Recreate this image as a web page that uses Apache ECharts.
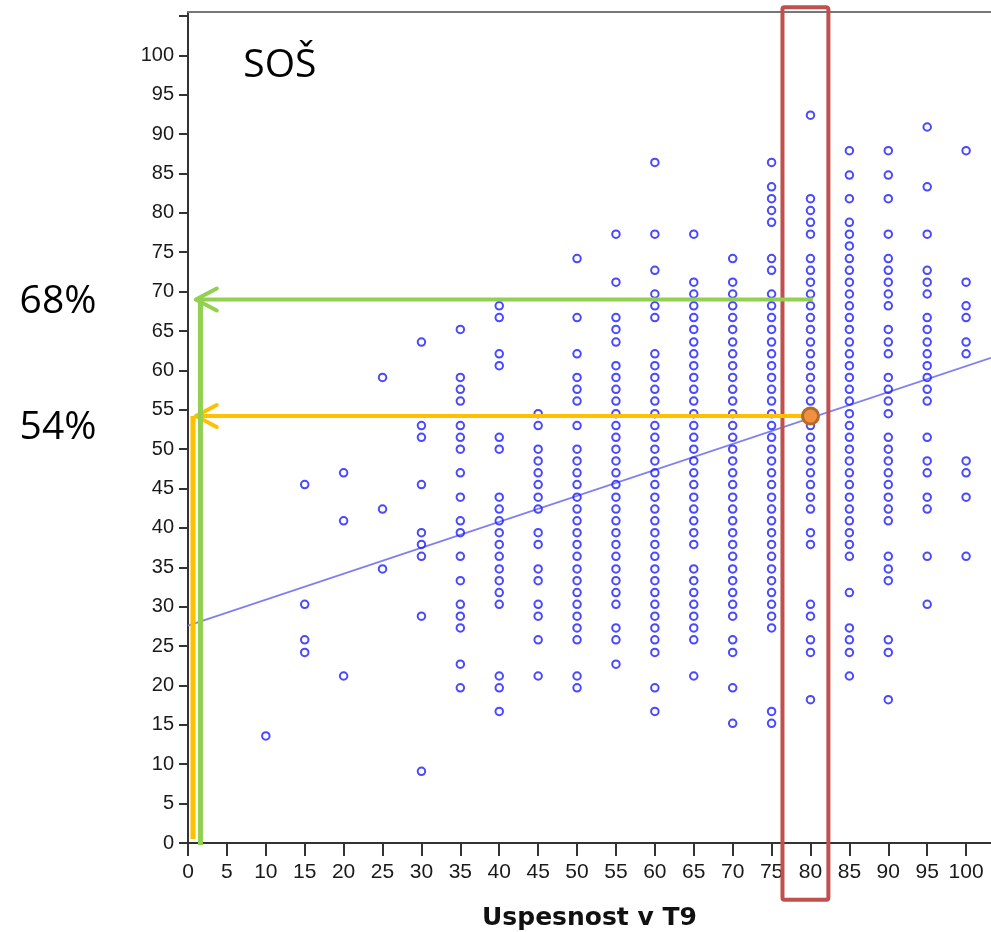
<!DOCTYPE html>
<html>
<head>
<meta charset="utf-8">
<script src="https://cdn.jsdelivr.net/npm/echarts@6/dist/echarts.min.js"></script>
<style>
html,body{margin:0;padding:0;background:#fff;}
#main{width:991px;height:932px;}
</style>
</head>
<body>
<div id="main"></div>
<script>
// ---- data (x = Uspesnost v T9, y = school success %) ----
const xTicks = [0,5,10,15,20,25,30,35,40,45,50,55,60,65,70,75,80,85,90,95,100];
const yTicks = [0,5,10,15,20,25,30,35,40,45,50,55,60,65,70,75,80,85,90,95,100,105];
const yLabels = [0,5,10,15,20,25,30,35,40,45,50,55,60,65,70,75,80,85,90,95,100];
const colX = [10,15,20,25,30,35,40,45,50,55,60,65,70,75,80,85,90,95,100];
const y10 = [13.6];
const y15 = [45.5, 30.3, 25.8, 24.2];
const y20 = [47.0, 40.9, 21.2];
const y25 = [59.1, 42.4, 34.8];
const y30 = [63.6, 53.0, 51.5, 45.5, 39.4, 37.9, 36.4, 28.8, 9.1];
const y35 = [65.2, 59.1, 57.6, 56.1, 53.0, 51.5, 50.0, 47.0, 43.9, 40.9, 39.4, 36.4, 33.3, 30.3, 28.8, 27.3, 22.7, 19.7];
const y40 = [68.2, 66.7, 62.1, 60.6, 51.5, 50.0, 43.9, 42.4, 40.9, 39.4, 37.9, 36.4, 34.8, 33.3, 31.8, 30.3, 21.2, 19.7, 16.7];
const y45 = [54.5, 53.0, 50.0, 48.5, 47.0, 45.5, 43.9, 42.4, 39.4, 37.9, 34.8, 33.3, 30.3, 28.8, 25.8, 21.2];
const y50 = [74.2, 66.7, 62.1, 59.1, 57.6, 56.1, 53.0, 50.0, 48.5, 47.0, 45.5, 43.9, 42.4, 40.9, 39.4, 37.9, 36.4, 34.8, 33.3, 31.8, 30.3, 28.8, 27.3, 25.8, 21.2, 19.7];
const y55 = [77.3, 71.2, 66.7, 65.2, 63.6, 60.6, 59.1, 57.6, 56.1, 54.5, 53.0, 51.5, 50.0, 48.5, 47.0, 45.5, 43.9, 42.4, 40.9, 39.4, 37.9, 36.4, 34.8, 33.3, 31.8, 30.3, 27.3, 25.8, 22.7];
const y60 = [86.4, 77.3, 72.7, 69.7, 68.2, 66.7, 62.1, 60.6, 59.1, 57.6, 56.1, 54.5, 53.0, 51.5, 50.0, 48.5, 47.0, 45.5, 43.9, 42.4, 40.9, 39.4, 37.9, 36.4, 34.8, 33.3, 31.8, 30.3, 28.8, 27.3, 25.8, 24.2, 19.7, 16.7];
const y65 = [77.3, 71.2, 69.7, 68.2, 66.7, 65.2, 63.6, 62.1, 60.6, 59.1, 57.6, 56.1, 54.5, 53.0, 51.5, 50.0, 48.5, 47.0, 45.5, 43.9, 42.4, 40.9, 39.4, 37.9, 34.8, 33.3, 31.8, 30.3, 28.8, 27.3, 25.8, 21.2];
const y70 = [74.2, 71.2, 69.7, 68.2, 66.7, 65.2, 63.6, 62.1, 60.6, 59.1, 57.6, 56.1, 54.5, 53.0, 51.5, 50.0, 48.5, 47.0, 45.5, 43.9, 42.4, 40.9, 39.4, 37.9, 36.4, 34.8, 33.3, 31.8, 30.3, 28.8, 25.8, 24.2, 19.7, 15.2];
const y75 = [86.4, 83.3, 81.8, 80.3, 78.8, 74.2, 72.7, 69.7, 68.2, 66.7, 65.2, 63.6, 62.1, 60.6, 59.1, 57.6, 56.1, 54.5, 53.0, 51.5, 50.0, 48.5, 47.0, 45.5, 43.9, 42.4, 40.9, 39.4, 37.9, 36.4, 34.8, 33.3, 31.8, 30.3, 28.8, 27.3, 16.7, 15.2];
const y80 = [92.4, 81.8, 80.3, 78.8, 77.3, 74.2, 72.7, 71.2, 69.7, 68.2, 66.7, 65.2, 63.6, 62.1, 60.6, 59.1, 57.6, 56.1, 54.5, 53.0, 51.5, 50.0, 48.5, 47.0, 45.5, 43.9, 42.4, 39.4, 37.9, 30.3, 28.8, 25.8, 24.2, 18.2];
const y85 = [87.9, 84.8, 81.8, 78.8, 77.3, 75.8, 74.2, 72.7, 71.2, 69.7, 68.2, 66.7, 65.2, 63.6, 62.1, 60.6, 59.1, 57.6, 56.1, 54.5, 53.0, 51.5, 50.0, 48.5, 47.0, 45.5, 43.9, 42.4, 40.9, 39.4, 37.9, 36.4, 31.8, 27.3, 25.8, 24.2, 21.2];
const y90 = [87.9, 84.8, 81.8, 77.3, 74.2, 72.7, 71.2, 69.7, 68.2, 65.2, 63.6, 62.1, 59.1, 57.6, 56.1, 54.5, 51.5, 50.0, 48.5, 47.0, 45.5, 43.9, 42.4, 40.9, 36.4, 34.8, 33.3, 25.8, 24.2, 18.2];
const y95 = [90.9, 83.3, 77.3, 72.7, 71.2, 69.7, 66.7, 65.2, 63.6, 62.1, 60.6, 59.1, 57.6, 56.1, 51.5, 48.5, 47.0, 43.9, 42.4, 36.4, 30.3];
const y100 = [87.9, 71.2, 68.2, 66.7, 63.6, 62.1, 48.5, 47.0, 43.9, 36.4];
const colY = [y10,y15,y20,y25,y30,y35,y40,y45,y50,y55,y60,y65,y70,y75,y80,y85,y90,y95,y100];

// fit line endpoints (x, y)
const fitX = [0, 103.2];
const fitY = [27.6, 61.6];

// annotations
const highlightX = 80;
const greenLevel = 69.0, greenLabel = '68%';
const orangeLevel = 54.2, orangeLabel = '54%';
const groupLabel = 'SOŠ';
const xTitle = 'Uspesnost v T9';

// ---- build ----
const points = [];
colX.forEach((x, i) => colY[i].forEach(y => points.push([x, y])));

const chart = echarts.init(document.getElementById('main'), null, {renderer: 'canvas'});
const axisFont = 'Liberation Sans, Arial, sans-serif';
const option = {
  animation: false,
  backgroundColor: '#ffffff',
  grid: {left: 188, right: 0, top: 12, bottom: 89, containLabel: false, outerBoundsMode: 'none'},
  xAxis: [{
    type: 'value', min: 0, max: 103.2, interval: 5,
    name: xTitle, nameLocation: 'middle', nameGap: 63,
    nameTextStyle: {fontFamily: 'DejaVu Sans, sans-serif', fontWeight: 'bold', fontSize: 25, color: '#111'},
    axisLine: {show: true, onZero: false, lineStyle: {color: '#333', width: 2}},
    axisTick: {show: true, length: 13, customValues: xTicks, lineStyle: {color: '#333', width: 2}},
    axisLabel: {margin: 19, fontSize: 21, color: '#1a1a1a', fontFamily: axisFont, customValues: xTicks,
      formatter: v => (xTicks.indexOf(v) >= 0 ? String(v) : '')},
    splitLine: {show: false}
  }, {
    type: 'value', position: 'top', min: 0, max: 103.2,
    axisLine: {show: true, onZero: false, lineStyle: {color: '#777', width: 2}},
    axisTick: {show: false}, axisLabel: {show: false}, splitLine: {show: false}
  }],
  yAxis: {
    type: 'value', min: 0, max: 105.5, interval: 5,
    axisLine: {show: true, onZero: false, lineStyle: {color: '#333', width: 2}},
    axisTick: {show: true, length: 9, customValues: yTicks, lineStyle: {color: '#333', width: 2}},
    axisLabel: {margin: 14, fontSize: 20, color: '#1a1a1a', fontFamily: axisFont, customValues: yLabels,
      formatter: v => (yLabels.indexOf(v) >= 0 ? String(v) : '')},
    splitLine: {show: false}
  },
  series: [{
    type: 'line', data: [[fitX[0], fitY[0]], [fitX[1], fitY[1]]],
    symbol: 'none', lineStyle: {color: '#7f7ff5', width: 1.8}, z: 1, silent: true
  }, {
    type: 'scatter', data: points, symbol: 'circle', symbolSize: 7.5,
    itemStyle: {color: 'rgba(0,0,0,0)', borderColor: '#1c1cff', borderWidth: 2}, z: 2
  }]
};
chart.setOption(option);

const P = (x, y) => chart.convertToPixel({gridIndex: 0}, [x, y]);
const green = '#92d050', orange = '#ffc000', red = '#c0504d';
const g = [];
// red highlight box around the x=80 column
const bl = P(highlightX - 3.6, -7.2), tr = P(highlightX + 2.3, 106.1);
g.push({type: 'rect', z: 100, shape: {x: bl[0], y: tr[1], width: tr[0] - bl[0], height: bl[1] - tr[1], r: 2},
  style: {fill: 'none', stroke: red, lineWidth: 4}});
// orange: vertical + horizontal with arrow
const o0 = P(0.64, 0), o1 = P(0.64, orangeLevel), oTip = P(1.0, orangeLevel), oEnd = P(highlightX, orangeLevel);
g.push({type: 'polyline', z: 101, shape: {points: [[o0[0], o0[1] - 4], [o1[0], o1[1]]]}, style: {stroke: orange, lineWidth: 5, fill: 'none'}});
g.push({type: 'polyline', z: 101, shape: {points: [[oTip[0], oTip[1]], [oEnd[0], oEnd[1]]]}, style: {stroke: orange, lineWidth: 4, fill: 'none'}});
g.push({type: 'polyline', z: 101, shape: {points: [[oTip[0] + 21, oTip[1] - 11], [oTip[0], oTip[1]], [oTip[0] + 21, oTip[1] + 11]]},
  style: {stroke: orange, lineWidth: 4, fill: 'none', lineCap: 'round', lineJoin: 'round'}});
// green: vertical + horizontal with arrow
const g0 = P(1.6, 0), g1 = P(1.6, greenLevel), gTip = P(1.0, greenLevel), gEnd = P(highlightX + 0.3, greenLevel);
g.push({type: 'polyline', z: 102, shape: {points: [[g0[0], g0[1] + 2], [g1[0], g1[1]]]}, style: {stroke: green, lineWidth: 5, fill: 'none'}});
g.push({type: 'polyline', z: 102, shape: {points: [[gTip[0], gTip[1]], [gEnd[0], gEnd[1]]]}, style: {stroke: green, lineWidth: 4, fill: 'none'}});
g.push({type: 'polyline', z: 102, shape: {points: [[gTip[0] + 21, gTip[1] - 11], [gTip[0], gTip[1]], [gTip[0] + 21, gTip[1] + 11]]},
  style: {stroke: green, lineWidth: 4, fill: 'none', lineCap: 'round', lineJoin: 'round'}});
// orange dot on fit line
const d = P(highlightX, orangeLevel);
g.push({type: 'circle', z: 103, shape: {cx: d[0], cy: d[1], r: 8}, style: {fill: '#f0913f', stroke: '#b36a2b', lineWidth: 3}});
// texts
const lab = P(7.1, 98.6);
g.push({type: 'text', z: 104, style: {text: groupLabel, x: lab[0], y: lab[1], fontFamily: 'Open Sans, sans-serif', fontSize: 39, fill: '#000', textVerticalAlign: 'middle', verticalAlign: 'middle'}});
g.push({type: 'text', z: 104, style: {text: greenLabel, x: 58, y: P(0, greenLevel)[1] + 2, fontFamily: 'Open Sans, sans-serif', fontSize: 39, fill: '#000', align: 'center', textAlign: 'center', verticalAlign: 'middle', textVerticalAlign: 'middle'}});
g.push({type: 'text', z: 104, style: {text: orangeLabel, x: 58, y: P(0, orangeLevel)[1] + 12, fontFamily: 'Open Sans, sans-serif', fontSize: 39, fill: '#000', align: 'center', textAlign: 'center', verticalAlign: 'middle', textVerticalAlign: 'middle'}});
chart.setOption({graphic: g});
</script>
</body>
</html>
